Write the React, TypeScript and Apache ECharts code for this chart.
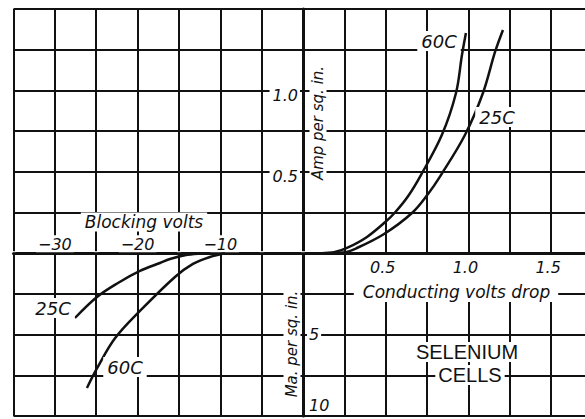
import React, { useEffect, useRef } from "react";
import * as echarts from "echarts";

// Forward (conducting) characteristics: volts drop vs amperes per sq. in.
const fwd60Volts = [0.115, 0.193, 0.266, 0.387, 0.496, 0.556, 0.635, 0.713, 0.84, 0.925, 0.961, 0.985];
const fwd60Amps = [0, 0.007, 0.032, 0.1, 0.19, 0.25, 0.35, 0.48, 0.727, 0.984, 1.217, 1.353];
const fwd25Volts = [0.115, 0.242, 0.326, 0.49, 0.659, 0.756, 0.834, 0.979, 1.088, 1.161, 1.209];
const fwd25Amps = [0, 0.004, 0.032, 0.118, 0.247, 0.364, 0.48, 0.726, 0.984, 1.236, 1.371];

// Reverse (blocking) characteristics: blocking volts vs milliamperes per sq. in.
const rev25Volts = [-27.57, -24.91, -22.37, -19.71, -17.29, -16.08, -14.27, -12.45, -11.2];
const rev25mA = [3.98, 2.69, 1.83, 1.09, 0.6, 0.36, 0.12, 0.02, 0];
const rev60Volts = [-26.12, -24.91, -22.73, -19.71, -15.48, -13.3, -11.25, -9.43];
const rev60mA = [8.28, 7.08, 5.23, 3.55, 1.46, 0.66, 0.23, 0];

// Tick labels shown
const fwdVoltTicks = [0.5, 1.0, 1.5];
const ampTicks = [0.5, 1.0];
const blockVoltTicks = [-30, -20, -10];
const mATicks = [5, 10];

const zip = (a: number[], b: number[]) => a.map((v, i) => [v, b[i]]);

const INK = "#111";
const ITALIC = '"DejaVu Sans", sans-serif';

export default function App() {
  const ref = useRef<HTMLDivElement>(null);

  useEffect(() => {
    if (!ref.current) return;
    const chart = echarts.init(ref.current, undefined, { renderer: "svg" });

    const CW = 41.35;
    const CH = 40.7;
    const LEFT = 13.5;
    const YAX = 303;
    const TOP = 9;
    const XAX = 253.2;

    const split = { show: true, lineStyle: { color: INK, width: 2 } };
    const axisLineStyle = { show: true, onZero: false, lineStyle: { color: INK, width: 3 } };
    const tickLabel = {
      color: INK,
      fontFamily: ITALIC,
      fontStyle: "italic" as const,
      fontSize: 16,
    };

    const blankAxis = (extra: any) => ({
      type: "value",
      axisLine: { show: false },
      axisTick: { show: false },
      axisLabel: { show: false },
      splitLine: split,
      z: 0,
      ...extra,
    });

    const lineStyle = { color: INK, width: 2.5 };
    const curve = (name: string, xi: number, data: number[][]) => ({
      name,
      type: "line",
      xAxisIndex: xi,
      yAxisIndex: xi,
      data,
      smooth: 0.35,
      showSymbol: false,
      lineStyle,
      z: 5,
    });

    const textEl = (
      t: string,
      x: number,
      y: number,
      font: string,
      extra: any = {},
      styleExtra: any = {}
    ) => ({
      type: "text",
      x,
      y,
      z: 100,
      ...extra,
      style: {
        text: t,
        font,
        fill: INK,
        align: "center",
        verticalAlign: "middle",
        textAlign: "center",
        textVerticalAlign: "middle",
        backgroundColor: "#fff",
        padding: [1, 4],
        ...styleExtra,
      },
    });

    const option: any = {
      animation: false,
      backgroundColor: "#fff",
      grid: [
        { left: LEFT, top: TOP, width: 7 * CW, height: 6 * CH, outerBoundsMode: "none" },
        { left: YAX, top: TOP, width: 7 * CW, height: 6 * CH, outerBoundsMode: "none" },
        { left: LEFT, top: XAX, width: 7 * CW, height: 4 * CH, outerBoundsMode: "none" },
        { left: YAX, top: XAX, width: 7 * CW, height: 4 * CH, outerBoundsMode: "none" },
      ],
      xAxis: [
        blankAxis({ gridIndex: 0, min: -35, max: 0, interval: 5 }),
        {
          type: "value",
          gridIndex: 1,
          min: 0,
          max: 1.75,
          interval: 0.25,
          position: "bottom",
          axisLine: axisLineStyle,
          axisTick: { show: false },
          splitLine: split,
          z: 3,
          axisLabel: {
            ...tickLabel,
            margin: 6,
            padding: [0, 6, 0, 0],
            formatter: (v: number) => (fwdVoltTicks.includes(v) ? v.toFixed(1) : ""),
          },
        },
        {
          type: "value",
          gridIndex: 2,
          min: -35,
          max: 0,
          interval: 5,
          position: "top",
          axisLine: axisLineStyle,
          axisTick: { show: false },
          splitLine: split,
          z: 3,
          axisLabel: {
            ...tickLabel,
            margin: 1,
            backgroundColor: "#fff",
            padding: [1, 2, 0, 2],
            formatter: (v: number) => (blockVoltTicks.includes(v) ? "\u2212" + Math.abs(v) : ""),
          },
        },
        blankAxis({ gridIndex: 3, min: 0, max: 1.75, interval: 0.25 }),
      ],
      yAxis: [
        blankAxis({ gridIndex: 0, min: 0, max: 1.5, interval: 0.25 }),
        {
          type: "value",
          gridIndex: 1,
          min: 0,
          max: 1.5,
          interval: 0.25,
          position: "left",
          axisLine: axisLineStyle,
          axisTick: { show: false },
          splitLine: split,
          z: 3,
          axisLabel: {
            ...tickLabel,
            margin: 3,
            formatter: (v: number) => (ampTicks.includes(v) ? "{a|" + v.toFixed(1) + "}" : ""),
            rich: {
              a: { ...tickLabel, backgroundColor: "#fff", padding: [10, 2, 0, 3] },
            },
          },
        },
        {
          type: "value",
          gridIndex: 2,
          min: 0,
          max: 10,
          interval: 2.5,
          inverse: true,
          position: "right",
          axisLine: axisLineStyle,
          axisTick: { show: false },
          splitLine: split,
          z: 3,
          axisLabel: {
            ...tickLabel,
            margin: 4,
            formatter: (v: number) =>
              mATicks.includes(v) ? (v === 10 ? "{b|" + v + "}" : "{a|" + v + "}") : "",
            rich: {
              a: { ...tickLabel, backgroundColor: "#fff", padding: [1, 2, 1, 2] },
              b: { ...tickLabel, padding: [0, 2, 22, 2] },
            },
          },
        },
        blankAxis({ gridIndex: 3, min: 0, max: 10, interval: 2.5, inverse: true }),
      ],
      series: [
        curve("60C conducting", 1, zip(fwd60Volts, fwd60Amps)),
        curve("25C conducting", 1, zip(fwd25Volts, fwd25Amps)),
        curve("25C blocking", 2, zip(rev25Volts, rev25mA)),
        curve("60C blocking", 2, zip(rev60Volts, rev60mA)),
      ],
      graphic: [
        textEl("Amp per sq. in.", 318, 123, `italic 15px ${ITALIC}`, { rotation: Math.PI / 2 }),
        textEl("Ma. per sq. in.", 292, 344, `italic 15px ${ITALIC}`, { rotation: Math.PI / 2 }),
        textEl("Blocking volts", 144, 222, `italic 17px ${ITALIC}`),
        // sits just above the lower-right grid lines, under the conducting-volt tick labels
        textEl(
          "Conducting volts drop",
          456,
          302,
          `italic 17px ${ITALIC}`,
          { z: 1 },
          { verticalAlign: "bottom", textVerticalAlign: "bottom", padding: [28, 8, 2, 9] }
        ),
        textEl("60C", 439, 41, `italic 18px ${ITALIC}`),
        textEl("25C", 497, 117, `italic 18px ${ITALIC}`),
        textEl("25C", 53, 308, `italic 18px ${ITALIC}`),
        textEl("60C", 125, 367, `italic 18px ${ITALIC}`),
        textEl("SELENIUM", 467, 352, `20px "Liberation Sans", Arial, sans-serif`, {}, { padding: [0, 3] }),
        textEl("CELLS", 470, 375, `20px "Liberation Sans", Arial, sans-serif`, {}, { padding: [0, 3] }),
      ],
    };

    chart.setOption(option);
    return () => chart.dispose();
  }, []);

  return (
    <div
      ref={ref}
      style={{ position: "absolute", left: 0, top: 0, width: 585, height: 419, background: "#fff" }}
    />
  );
}
